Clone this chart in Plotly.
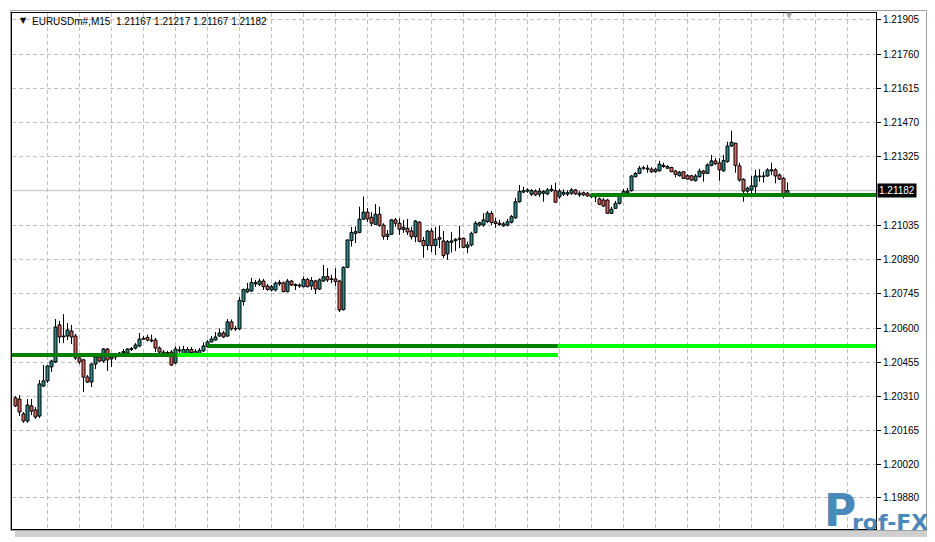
import plotly.graph_objects as go

# ---------------- data (EURUSDm#, M15) ----------------
opens = [1.20304,1.20299,1.20236,1.20206,1.20270,1.20253,1.20227,1.20354,1.20376,1.20435,
         1.20456,1.20613,1.20562,1.20566,1.20587,1.20566,1.20473,1.20465,1.20392,1.20371,
         1.20447,1.20477,1.20460,1.20511,1.20469,1.20481,1.20481,1.20496,1.20494,1.20509,
         1.20515,1.20524,1.20553,1.20560,1.20549,1.20549,1.20515,1.20498,1.20494,1.20498,
         1.20452,1.20503,1.20486,1.20486,1.20509,1.20481,1.20481,1.20503,1.20522,1.20541,
         1.20549,1.20566,1.20579,1.20566,1.20626,1.20596,1.20596,1.20712,1.20753,1.20757,
         1.20787,1.20785,1.20799,1.20778,1.20761,1.20761,1.20787,1.20791,1.20754,1.20799,
         1.20780,1.20778,1.20775,1.20806,1.20778,1.20799,1.20765,1.20799,1.20818,1.20808,
         1.20808,1.20799,1.20678,1.20857,1.20971,1.21001,1.21005,1.21061,1.21091,1.21069,
         1.21039,1.21082,1.21036,1.20988,1.20997,1.21058,1.21044,1.21018,1.21022,1.21011,
         1.20987,1.21048,1.20971,1.20950,1.21011,1.20949,1.20983,1.20969,1.20914,1.20963,
         1.20970,1.20976,1.20980,1.20942,1.20952,1.21004,1.21036,1.21036,1.21051,1.21085,
         1.21050,1.21044,1.21033,1.21036,1.21048,1.21067,1.21135,1.21176,1.21180,1.21167,
         1.21180,1.21167,1.21171,1.21168,1.21182,1.21182,1.21156,1.21167,1.21167,1.21171,
         1.21185,1.21164,1.21173,1.21171,1.21156,1.21157,1.21147,1.21142,1.21142,1.21086,
         1.21107,1.21128,1.21159,1.21173,1.21182,1.21241,1.21255,1.21277,1.21273,1.21273,
         1.21262,1.21266,1.21284,1.21277,1.21280,1.21265,1.21245,1.21262,1.21245,1.21245,
         1.21224,1.21241,1.21265,1.21255,1.21289,1.21308,1.21299,1.21266,1.21305,1.21371,
         1.21383,1.21287,1.21230,1.21180,1.21185,1.21199,1.21241,1.21241,1.21244,1.21266,
         1.21270,1.21248,1.21234,1.21167]
highs = [1.20312,1.20316,1.20244,1.20299,1.20299,1.20265,1.20380,1.20443,1.20443,1.20465,
         1.20638,1.20630,1.20659,1.20621,1.20613,1.20575,1.20477,1.20469,1.20401,1.20452,
         1.20494,1.20494,1.20515,1.20515,1.20494,1.20490,1.20498,1.20511,1.20515,1.20519,
         1.20536,1.20579,1.20566,1.20572,1.20572,1.20558,1.20522,1.20507,1.20503,1.20507,
         1.20522,1.20522,1.20524,1.20519,1.20519,1.20511,1.20515,1.20539,1.20549,1.20566,
         1.20583,1.20598,1.20587,1.20638,1.20636,1.20609,1.20731,1.20767,1.20791,1.20812,
         1.20804,1.20810,1.20808,1.20787,1.20782,1.20797,1.20804,1.20797,1.20808,1.20804,
         1.20789,1.20789,1.20818,1.20812,1.20816,1.20804,1.20810,1.20867,1.20854,1.20825,
         1.20853,1.20804,1.20861,1.20975,1.21028,1.21030,1.21114,1.21157,1.21108,1.21091,
         1.21125,1.21114,1.21044,1.21015,1.21061,1.21066,1.21065,1.21058,1.21062,1.21029,
         1.21058,1.21053,1.20986,1.21015,1.21024,1.21028,1.21034,1.21011,1.20973,1.21007,
         1.20981,1.21033,1.20983,1.20966,1.21008,1.21053,1.21050,1.21086,1.21096,1.21096,
         1.21066,1.21058,1.21049,1.21062,1.21079,1.21151,1.21206,1.21199,1.21192,1.21189,
         1.21187,1.21193,1.21185,1.21193,1.21206,1.21216,1.21189,1.21187,1.21183,1.21193,
         1.21189,1.21180,1.21178,1.21176,1.21172,1.21164,1.21153,1.21151,1.21147,1.21113,
         1.21138,1.21172,1.21189,1.21193,1.21248,1.21261,1.21287,1.21287,1.21291,1.21281,
         1.21279,1.21308,1.21300,1.21290,1.21283,1.21270,1.21265,1.21265,1.21252,1.21248,
         1.21252,1.21275,1.21270,1.21298,1.21333,1.21320,1.21319,1.21333,1.21389,1.21436,
         1.21385,1.21300,1.21234,1.21199,1.21244,1.21270,1.21273,1.21262,1.21277,1.21300,
         1.21277,1.21255,1.21239,1.21217]
lows = [1.20265,1.20227,1.20198,1.20198,1.20231,1.20215,1.20219,1.20350,1.20367,1.20414,
        1.20452,1.20536,1.20536,1.20549,1.20532,1.20465,1.20447,1.20329,1.20367,1.20350,
        1.20426,1.20456,1.20452,1.20418,1.20435,1.20465,1.20477,1.20490,1.20490,1.20503,
        1.20509,1.20519,1.20549,1.20543,1.20539,1.20498,1.20492,1.20488,1.20486,1.20439,
        1.20447,1.20492,1.20481,1.20479,1.20490,1.20477,1.20477,1.20498,1.20517,1.20539,
        1.20547,1.20562,1.20558,1.20562,1.20589,1.20587,1.20592,1.20695,1.20748,1.20753,
        1.20774,1.20778,1.20761,1.20757,1.20755,1.20755,1.20778,1.20751,1.20751,1.20778,
        1.20761,1.20770,1.20772,1.20772,1.20761,1.20744,1.20761,1.20796,1.20795,1.20790,
        1.20778,1.20668,1.20674,1.20854,1.20945,1.20960,1.21001,1.21058,1.21049,1.21032,
        1.21036,1.21029,1.20974,1.20973,1.20994,1.21029,1.20994,1.21003,1.20994,1.20975,
        1.20964,1.20963,1.20898,1.20930,1.20922,1.20909,1.20939,1.20896,1.20889,1.20920,
        1.20926,1.20938,1.20938,1.20917,1.20945,1.21001,1.21029,1.21029,1.21045,1.21036,
        1.21024,1.21032,1.21028,1.21030,1.21043,1.21062,1.21131,1.21171,1.21173,1.21159,
        1.21159,1.21155,1.21135,1.21164,1.21176,1.21130,1.21147,1.21159,1.21159,1.21164,
        1.21164,1.21155,1.21159,1.21155,1.21151,1.21134,1.21121,1.21113,1.21083,1.21083,
        1.21104,1.21123,1.21155,1.21170,1.21178,1.21238,1.21252,1.21270,1.21258,1.21257,
        1.21257,1.21263,1.21279,1.21275,1.21261,1.21238,1.21242,1.21231,1.21229,1.21223,
        1.21221,1.21238,1.21220,1.21252,1.21285,1.21291,1.21224,1.21262,1.21300,1.21368,
        1.21258,1.21220,1.21135,1.21173,1.21164,1.21164,1.21220,1.21216,1.21241,1.21248,
        1.21213,1.21227,1.21150,1.21167]
closes = [1.20270,1.20244,1.20206,1.20274,1.20248,1.20223,1.20363,1.20376,1.20439,1.20460,
          1.20604,1.20562,1.20566,1.20592,1.20562,1.20473,1.20456,1.20392,1.20371,1.20447,
          1.20477,1.20460,1.20511,1.20465,1.20477,1.20477,1.20494,1.20500,1.20511,1.20513,
          1.20528,1.20553,1.20556,1.20549,1.20545,1.20515,1.20498,1.20494,1.20496,1.20443,
          1.20511,1.20507,1.20509,1.20509,1.20496,1.20500,1.20505,1.20524,1.20541,1.20553,
          1.20562,1.20579,1.20562,1.20626,1.20596,1.20598,1.20717,1.20763,1.20765,1.20793,
          1.20792,1.20799,1.20775,1.20764,1.20775,1.20790,1.20793,1.20754,1.20799,1.20782,
          1.20784,1.20782,1.20806,1.20775,1.20801,1.20765,1.20804,1.20817,1.20804,1.20806,
          1.20797,1.20676,1.20857,1.20973,1.21005,1.21008,1.21061,1.21091,1.21062,1.21044,
          1.21082,1.21035,1.20988,1.20997,1.21058,1.21044,1.21018,1.21027,1.21007,1.20987,
          1.21053,1.20967,1.20949,1.21011,1.20949,1.20976,1.20976,1.20907,1.20966,1.20969,
          1.20975,1.20980,1.20942,1.20952,1.21001,1.21044,1.21046,1.21058,1.21087,1.21047,
          1.21043,1.21039,1.21041,1.21050,1.21072,1.21135,1.21178,1.21182,1.21185,1.21182,
          1.21164,1.21180,1.21178,1.21185,1.21188,1.21133,1.21180,1.21175,1.21173,1.21185,
          1.21168,1.21171,1.21164,1.21160,1.21164,1.21155,1.21124,1.21117,1.21086,1.21103,
          1.21128,1.21160,1.21178,1.21180,1.21244,1.21255,1.21277,1.21279,1.21277,1.21262,
          1.21273,1.21294,1.21289,1.21284,1.21262,1.21251,1.21260,1.21234,1.21231,1.21227,
          1.21244,1.21265,1.21255,1.21291,1.21308,1.21296,1.21270,1.21309,1.21371,1.21387,
          1.21289,1.21227,1.21180,1.21192,1.21202,1.21244,1.21244,1.21244,1.21270,1.21270,
          1.21244,1.21231,1.21164,1.21182]

price_ticks = [1.21905, 1.21760, 1.21615, 1.21470, 1.21325, 1.21035, 1.20890,
               1.20745, 1.20600, 1.20455, 1.20310, 1.20165, 1.20020, 1.19880, 1.19740]
price_labels = ["%.5f" % v for v in price_ticks]

symbol = "EURUSDm#,M15"
last_bar_ohlc = [1.21167, 1.21217, 1.21167, 1.21182]
bid_price = 1.21182

# horizontal level objects: (price, start bar, end bar, colour key)
levels = [
    (1.20486, None, 40.5, "green"),
    (1.20486, 40.5, 135.6, "lime"),
    (1.20524, 48.0, 135.6, "green"),
    (1.20524, 135.6, None, "lime"),
    (1.21164, 143.8, None, "green"),
]

# ---------------- styling / geometry ----------------
OFF = 8                      # default page body margin
W, H = 935 - OFF, 542 - OFF
L_PX, R_PX, T_PX, B_PX = 12, 876, 13, 529          # plot area in page pixels
X0, X1 = -0.875, 215.125
Y_TOP, Y_BOT = 1.219346, 1.197484
BULL = "#2b8c8c"
BEAR = "#e0625c"
COLORS = {"green": "#008000", "lime": "#00ff00"}


def px(xp):
    return (xp - L_PX) / (R_PX - L_PX)


def py(yp):
    return (B_PX - yp) / (B_PX - T_PX)


n = len(opens)
xs = list(range(n))

fig = go.Figure()

# wicks (upper and lower parts separately so they don't cross bodies)
wx, wy = [], []
for i in xs:
    top = max(opens[i], closes[i])
    bot = min(opens[i], closes[i])
    wx += [i, i, None, i, i, None]
    wy += [highs[i], top, None, bot, lows[i], None]
fig.add_trace(go.Scatter(x=wx, y=wy, mode="lines", line=dict(color="black", width=1),
                         hoverinfo="skip", showlegend=False))

MIN_H = 0.000004
for bull, col in ((True, BULL), (False, BEAR)):
    idx = [i for i in xs if (closes[i] >= opens[i]) == bull]
    fig.add_trace(go.Bar(
        x=idx,
        y=[max(abs(closes[i] - opens[i]), MIN_H) for i in idx],
        base=[min(opens[i], closes[i]) for i in idx],
        width=0.75,
        marker=dict(color=col, line=dict(color="black", width=1)),
        hoverinfo="skip", showlegend=False))

for price, a, b, key in levels:
    a = X0 if a is None else a
    b = X1 if b is None else b
    fig.add_trace(go.Scatter(x=[a, b], y=[price, price], mode="lines",
                             line=dict(color=COLORS[key], width=4),
                             hoverinfo="skip", showlegend=False))

shapes = [
    # bid line
    dict(type="line", xref="paper", yref="y", x0=0, x1=1, y0=bid_price, y1=bid_price,
         line=dict(color="#c0c0c0", width=1), layer="between"),
    # window border
    dict(type="rect", xref="paper", yref="paper", x0=px(10.5), x1=px(926.5),
         y0=py(530.5), y1=py(10.5), line=dict(color="#a0a0a0", width=1), layer="above"),
    # window drop shadow
    dict(type="rect", xref="paper", yref="paper", x0=px(927), x1=px(933),
         y0=py(537), y1=py(15), line=dict(width=0), fillcolor="#cfcfcf", layer="above"),
    dict(type="rect", xref="paper", yref="paper", x0=px(15), x1=px(933),
         y0=py(537), y1=py(531), line=dict(width=0), fillcolor="#cfcfcf", layer="above"),
]

annotations = [
    dict(x=px(18), y=py(20.5), xref="paper", yref="paper", text="▼", showarrow=False,
         xanchor="left", yanchor="middle", font=dict(size=8, color="black", family="DejaVu Sans")),
    dict(x=px(30), y=py(21), xref="paper", yref="paper",
         text=symbol + "\u00a0\u00a0" + " ".join("%.5f" % v for v in last_bar_ohlc),
         showarrow=False, xanchor="left", yanchor="middle",
         font=dict(size=10, color="black", family="Liberation Sans")),
    dict(x=px(877), y=bid_price, xref="paper", yref="y", text="1.21182", showarrow=False,
         xanchor="left", yanchor="middle", bgcolor="black", borderpad=1,
         font=dict(size=10, color="white", family="Liberation Sans")),
    dict(x=px(789), y=py(15), xref="paper", yref="paper", text="▼", showarrow=False,
         xanchor="center", yanchor="middle", font=dict(size=8, color="#a8a8a8", family="DejaVu Sans")),
    dict(x=px(840), y=py(510), xref="paper", yref="paper", text="<b>P</b>", showarrow=False,
         xanchor="center", yanchor="middle", opacity=0.85,
         font=dict(size=44, color="#2f74b0", family="DejaVu Sans")),
    dict(x=px(890), y=py(522), xref="paper", yref="paper", text="<b>rof-FX</b>", showarrow=False,
         xanchor="center", yanchor="middle", opacity=0.85,
         font=dict(size=22, color="#2f74b0", family="DejaVu Sans")),
]

fig.update_layout(
    width=W, height=H,
    margin=dict(l=L_PX - OFF, r=W - (R_PX - OFF), t=T_PX - OFF, b=H - (B_PX - OFF), pad=0),
    paper_bgcolor="white", plot_bgcolor="white",
    barmode="overlay", showlegend=False,
    shapes=shapes, annotations=annotations,
    xaxis=dict(range=[X0, X1], tickvals=list(range(8, 216, 8)), showticklabels=False,
               ticks="", showgrid=True, gridcolor="#c0c0c0", griddash="4px,3px", gridwidth=1,
               showline=True, linecolor="black", linewidth=1, mirror=True, zeroline=False,
               fixedrange=True),
    yaxis=dict(range=[Y_BOT, Y_TOP], side="right", tickvals=price_ticks, ticktext=price_labels,
               ticks="outside", ticklen=4, tickcolor="black", showgrid=True, gridcolor="#c0c0c0",
               griddash="4px,3px", gridwidth=1, showline=True, linecolor="black", linewidth=1,
               mirror=True, zeroline=False,
               tickfont=dict(size=10, color="black", family="Liberation Sans"), fixedrange=True),
)

fig.write_html("out.html")
